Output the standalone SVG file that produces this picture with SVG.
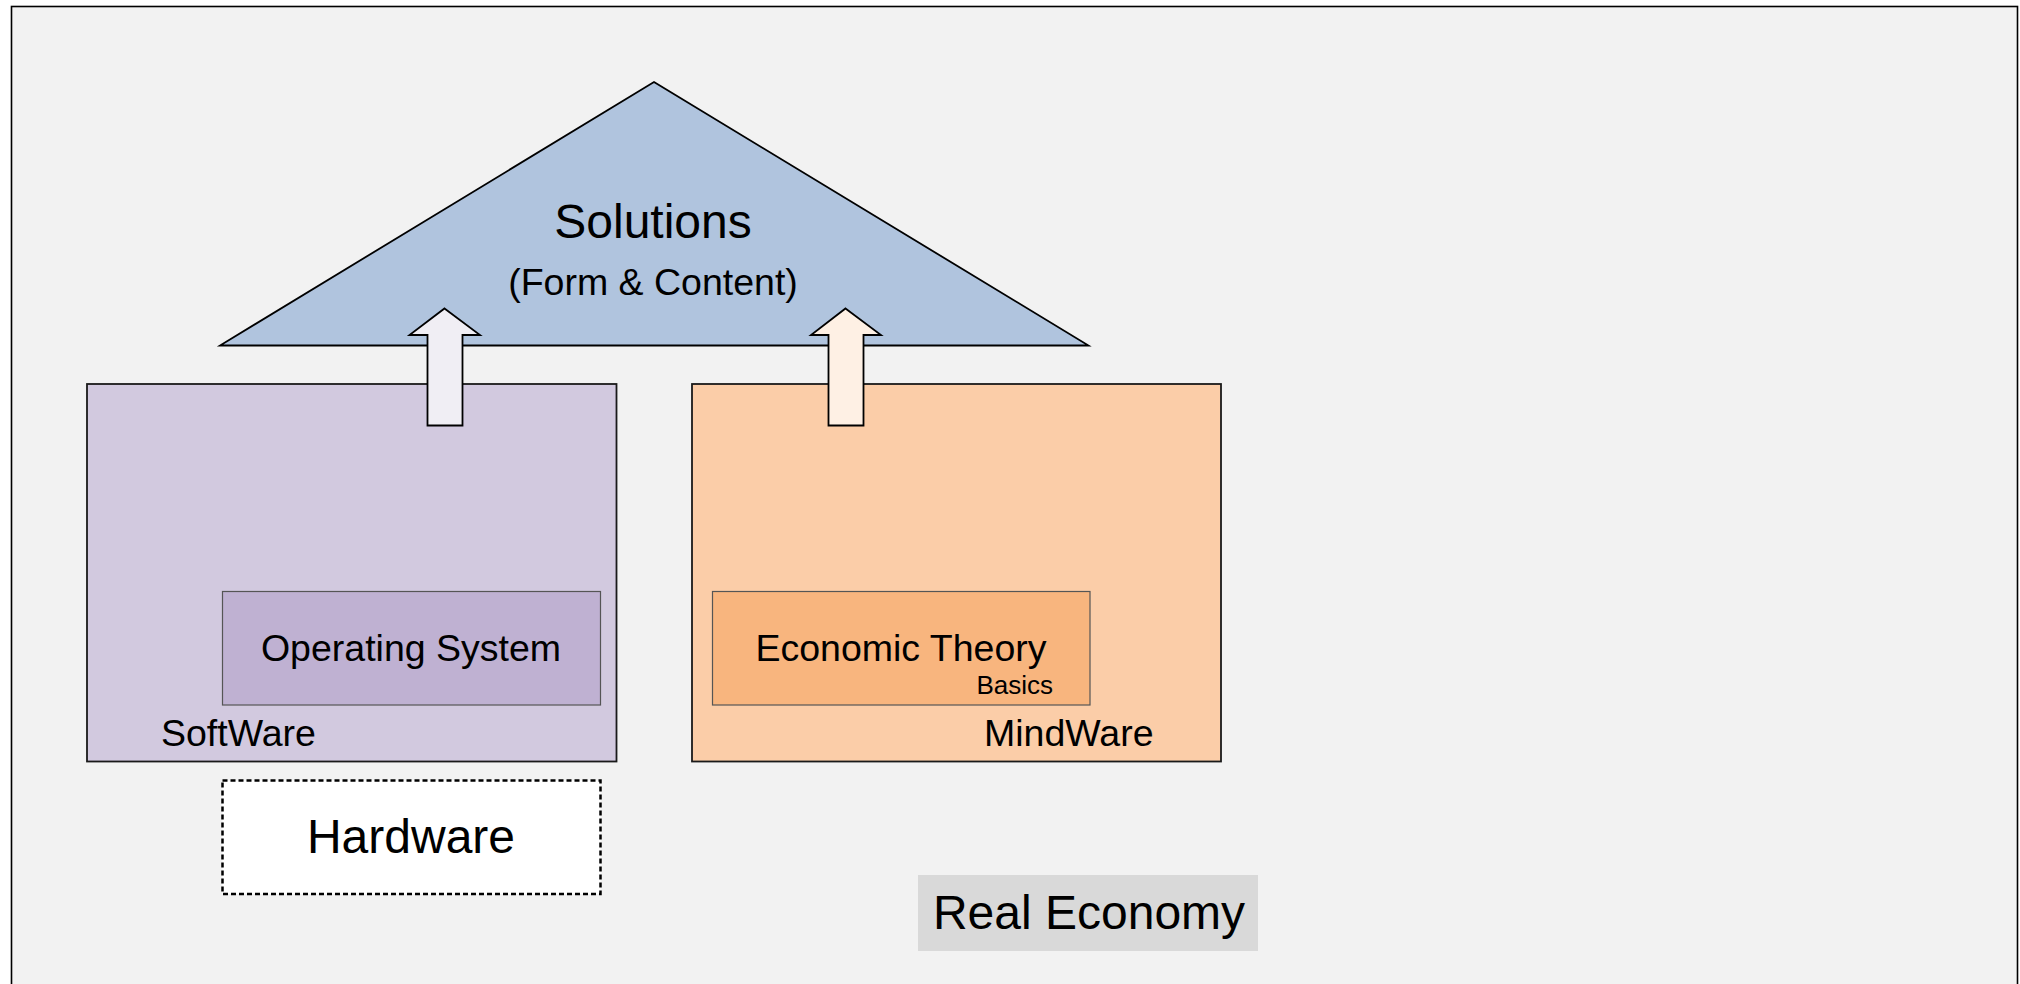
<svg xmlns="http://www.w3.org/2000/svg" width="2020" height="984" viewBox="0 0 2020 984">
  <style>
    text { font-family: "Liberation Sans", Arial, sans-serif; fill: #000; }
    .outer { fill: #F2F2F2; stroke: #000; stroke-width: 1.6; }
    .big { stroke: #1a1a1a; stroke-width: 1.8; }
    .inner { stroke: #555; stroke-width: 1.2; }
    .arrow { stroke: #000; stroke-width: 1.8; stroke-linejoin: miter; }
    .t37 { font-size: 37.5px; }
    .t47 { font-size: 48px; }
  </style>
  <rect width="2020" height="984" fill="#FFFFFF"/>
  <g id="real-economy">
    <rect class="outer" x="11.5" y="6.5" width="2006" height="1000"/>
    <rect x="918" y="875" width="340" height="76" fill="#D9D9D9"/>
    <text class="t47" x="1089" y="929" text-anchor="middle">Real Economy</text>
  </g>
  <g id="solutions">
    <polygon points="654,82 1088.5,345.5 220,345.5" fill="#B0C4DE" stroke="#000" stroke-width="1.8" stroke-linejoin="miter"/>
    <text class="t47" x="653" y="238" text-anchor="middle">Solutions</text>
    <text class="t37" x="653" y="295" text-anchor="middle">(Form &amp; Content)</text>
  </g>
  <g id="software">
    <rect class="big" x="87" y="384" width="529.5" height="377.5" fill="#D2C9DF"/>
    <text class="t37" x="161" y="746">SoftWare</text>
  </g>
  <g id="operating-system">
    <rect class="inner" x="222.5" y="591.5" width="378" height="113.5" fill="#BFB1D2"/>
    <text class="t37" x="411" y="661" text-anchor="middle">Operating System</text>
  </g>
  <g id="hardware">
    <rect x="222.5" y="780.5" width="378" height="113.5" fill="#FFFFFF" stroke="#000" stroke-width="2.5" stroke-dasharray="5 3"/>
    <text class="t47" x="411" y="853" text-anchor="middle">Hardware</text>
  </g>
  <g id="mindware">
    <rect class="big" x="692" y="384" width="529" height="377.5" fill="#FBCDA8"/>
    <text class="t37" x="984" y="746">MindWare</text>
  </g>
  <g id="economic-theory">
    <rect class="inner" x="712.5" y="591.5" width="377.5" height="113.5" fill="#F8B57E"/>
    <text class="t37" x="901" y="661" text-anchor="middle">Economic Theory</text>
    <text x="1053" y="694" text-anchor="end" font-size="26px">Basics</text>
  </g>
  <g id="connectors">
    <polygon class="arrow" fill="#F0EEF4" points="444.5,308.5 480,335 462.5,335 462.5,425.5 427.5,425.5 427.5,335 409.5,335"/>
    <polygon class="arrow" fill="#FEF0E4" points="845.5,308.5 881,335 863.5,335 863.5,425.5 828.5,425.5 828.5,335 811,335"/>
  </g>
</svg>
